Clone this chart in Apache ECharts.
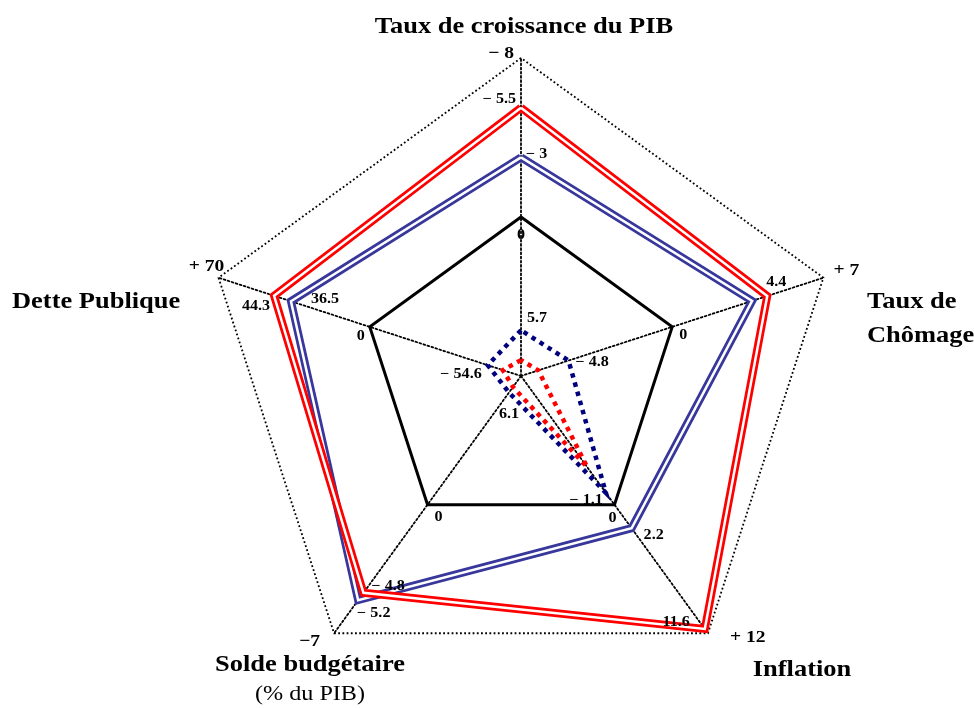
<!DOCTYPE html>
<html><head><meta charset="utf-8">
<script src="https://cdn.jsdelivr.net/npm/echarts@6/dist/echarts.min.js"></script>
<style>html,body{margin:0;padding:0;background:#fff}#c{width:974px;height:708px}</style>
</head><body><div id="c"></div>
<script>
// ---- DATA (axes in counter-clockwise order starting at the top) ----
const axisNames = ['Taux de croissance du PIB', 'Dette Publique', 'Solde budgétaire (% du PIB)', 'Inflation', 'Taux de Chômage'];
const axisCenterValues = [8, -70, 7, -12, -7];     // value at the centre of each axis
const axisOuterValues = [-8, 70, -7, 12, 7];       // value at the outer pentagon
const axisOuterLabels = ['− 8', '+ 70', '−7', '+ 12', '+ 7'];
const redValues = [-5.5, 44.3, -4.8, 11.6, 4.4];
const blueValues = [-3, 36.5, -5.2, 2.2, 3.7];
const zeroValues = [0, 0, 0, 0, 0];
const navyDottedValues = [5.7, -54.6, 6.1, -1.1, -4.8];
const redDottedValues = [7.2, -61.6, 6.4, -3.5, -6.2];
const redLabeled = [true, true, true, true, true];
const blueLabeled = [true, true, true, true, false];
const zeroLabeled = [true, true, true, true, true];
const navyLabeled = [true, true, true, true, true];

// ---- LAYOUT ----
const CX = 521, CY = 376, R = 318;
const SERIF = '"Liberation Serif","Times New Roman",serif';
const SX = 1.15; // horizontal stretch of the reference's text
// label offsets [dx, dy, align] per axis
const outerOff = [[-7, -4, 'right'], [-12, -11, 'center'], [-14, 8, 'right'], [22, 4, 'left'], [10, -7, 'left']];
const redOff = [[-5, -8, 'right'], [-4, 11, 'right'], [8, -6, 'left'], [-15, -7, 'right'], [-1, -14, 'left']];
const blueOff = [[5, -3, 'left'], [20, -2, 'left'], [-1, 13, 'left'], [12, 7, 'left'], [0, 0, 'left']];
const zeroOff = [[0, 18, 'center'], [-9, 10, 'center'], [7, 13, 'left'], [-2, 14, 'center'], [7, 9, 'left']];
const navyOff = [[6, -12, 'left'], [-6, 9, 'right'], [0, 22, 'center'], [-3, 8, 'right'], [7, 2, 'left']];

function norm(vals) {
  return vals.map((v, i) => (v - axisCenterValues[i]) / (axisOuterValues[i] - axisCenterValues[i]));
}
function fmt(v) { return v < 0 ? '− ' + Math.abs(v) : String(v); }

const chart = echarts.init(document.getElementById('c'), null, {renderer: 'canvas'});
function radarSeries(vals, color, width, type, z) {
  return {
    type: 'radar', symbol: 'none', silent: true, z: z,
    data: [{value: norm(vals), lineStyle: {color: color, width: width, type: type, cap: 'butt', join: 'miter'}}]
  };
}
chart.setOption({
  animation: false,
  backgroundColor: '#fff',
  radar: {
    center: [CX, CY], radius: R, startAngle: 90, shape: 'polygon', splitNumber: 1,
    indicator: axisNames.map(n => ({name: n, min: 0, max: 1})),
    axisName: {show: false},
    axisLine: {lineStyle: {color: '#000', type: [1.8, 2.4], width: 1.8}},
    splitLine: {lineStyle: {color: '#000', type: [1.8, 2.4], width: 1.8}},
    splitArea: {show: false},
    axisTick: {show: false}, axisLabel: {show: false}
  },
  series: [
    radarSeries(zeroValues, '#000', 3, 'solid', 2),
    radarSeries(blueValues, '#37379c', 8, 'solid', 3),
    radarSeries(blueValues, '#fff', 2.5, 'solid', 3),
    radarSeries(redValues, '#ff0000', 8, 'solid', 4),
    radarSeries(redValues, '#fff', 2.5, 'solid', 4),
    radarSeries(redDottedValues, '#ff0000', 4.5, [4.5, 5], 5),
    radarSeries(navyDottedValues, '#00007f', 4.5, [4.5, 5], 6)
  ]
});

function pointOf(val, i) {
  try {
    const cs = chart.getModel().getComponent('radar').coordinateSystem;
    const p = cs.dataToPoint(val, i);
    if (p && isFinite(p[0])) return p;
  } catch (e) {}
  const a = Math.PI / 2 + i * 2 * Math.PI / 5;
  return [CX + R * val * Math.cos(a), CY - R * val * Math.sin(a)];
}

const graphics = [];
function addText(x, y, text, font, align) {
  graphics.push({type: 'text', x: x, y: y, scaleX: SX, silent: true, z: 100,
    style: {text: text, font: font, fill: '#000', align: align, verticalAlign: 'middle'}});
}
function addLabels(vals, labels, offs, flags, size) {
  const n = norm(vals);
  for (let i = 0; i < vals.length; i++) {
    if (flags && !flags[i]) continue;
    const p = pointOf(n[i], i);
    addText(p[0] + offs[i][0], p[1] + offs[i][1], labels ? labels[i] : fmt(vals[i]), 'bold ' + size + 'px ' + SERIF, offs[i][2]);
  }
}
addLabels(axisOuterValues, axisOuterLabels, outerOff, null, 17);
addLabels(redValues, null, redOff, redLabeled, 14);
addLabels(blueValues, null, blueOff, blueLabeled, 14);
addLabels(zeroValues, null, zeroOff, zeroLabeled, 14);
addLabels(navyDottedValues, null, navyOff, navyLabeled, 14);

// axis titles
const TF = 'bold 23px ' + SERIF;
addText(524, 27, 'Taux de croissance du PIB', TF, 'center');
addText(12, 302, 'Dette Publique', TF, 'left');
addText(867, 302, 'Taux de', TF, 'left');
addText(867, 336, 'Chômage', TF, 'left');
addText(802, 670, 'Inflation', TF, 'center');
addText(310, 665, 'Solde budgétaire', TF, 'center');
addText(310, 694, '(% du PIB)', '21px ' + SERIF, 'center');

chart.setOption({graphic: graphics});
</script>
</body></html>
